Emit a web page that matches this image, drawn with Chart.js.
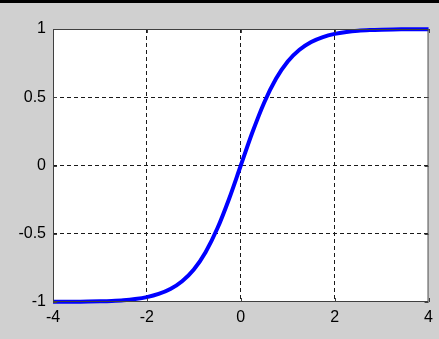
<!DOCTYPE html>
<html><head><meta charset="utf-8">
<script src="https://cdn.jsdelivr.net/npm/chart.js@4"></script>
<style>html,body{margin:0;padding:0;background:#d0d0d0;}#c{display:block;}</style>
</head><body>
<canvas id="c" width="439" height="339"></canvas>
<script>
const xValues = [-4,-3.75,-3.5,-3.25,-3,-2.75,-2.5,-2.25,-2,-1.75,-1.5,-1.25,-1,-0.75,-0.5,-0.25,0,0.25,0.5,0.75,1,1.25,1.5,1.75,2,2.25,2.5,2.75,3,3.25,3.5,3.75,4];
const yValues = [-0.999,-0.999,-0.998,-0.997,-0.995,-0.992,-0.987,-0.978,-0.964,-0.941,-0.905,-0.848,-0.762,-0.635,-0.462,-0.245,0,0.245,0.462,0.635,0.762,0.848,0.905,0.941,0.964,0.978,0.987,0.992,0.995,0.997,0.998,0.999,0.999];
const xTicks = [-4,-2,0,2,4];
const yTicks = [-1,-0.5,0,0.5,1];

const pts = xValues.map((x,i)=>({x:x,y:yValues[i]}));
const font = {family:'"Liberation Sans", Arial, sans-serif', size:16};

const bg = {
  id:'bg',
  beforeDraw(chart){
    const {ctx, chartArea:a} = chart;
    ctx.save();
    ctx.fillStyle='#d0d0d0'; ctx.fillRect(0,0,chart.width,chart.height);
    ctx.fillStyle='#000'; ctx.fillRect(0,0,chart.width,3);
    ctx.fillStyle='#fff'; ctx.fillRect(a.left,a.top,a.right-a.left,a.bottom-a.top);
    ctx.restore();
  },
  afterDraw(chart){
    const {ctx, chartArea:a, scales} = chart;
    ctx.save();
    ctx.strokeStyle='#404040'; ctx.lineWidth=1;
    ctx.strokeRect(a.left+0.5,a.top+0.5,a.right-a.left-1,a.bottom-a.top-1);
    ctx.beginPath();
    xTicks.forEach(v=>{
      const px = Math.round(scales.x.getPixelForValue(v))+0.5;
      ctx.moveTo(px,a.bottom); ctx.lineTo(px,a.bottom-4);
      ctx.moveTo(px,a.top); ctx.lineTo(px,a.top+4);
    });
    yTicks.forEach(v=>{
      const py = Math.round(scales.y.getPixelForValue(v))+0.5;
      ctx.moveTo(a.left,py); ctx.lineTo(a.left+4,py);
      ctx.moveTo(a.right,py); ctx.lineTo(a.right-4,py);
    });
    ctx.stroke();
    ctx.restore();
  }
};

new Chart(document.getElementById('c'), {
  type:'scatter',
  data:{datasets:[{data:pts, showLine:true, borderColor:'#0000ff', backgroundColor:'#0000ff', borderWidth:4, pointRadius:0, cubicInterpolationMode:'monotone', clip:4}]},
  options:{
    responsive:false, animation:false,
    layout:{padding:{top:29,right:7,left:0,bottom:0}},
    plugins:{legend:{display:false}, tooltip:{enabled:false}},
    scales:{
      x:{type:'linear', min:-4, max:4,
        afterBuildTicks(s){ s.ticks = xTicks.map(v=>({value:v})); },
        afterFit(s){ s.height = 37; },
        ticks:{color:'#000', font:font, padding:6, maxRotation:0, callback:v=>String(v)},
        grid:{color:ctx=>(ctx.tick && (ctx.tick.value===-4||ctx.tick.value===4))?'rgba(0,0,0,0)':'#1a1a1a', drawTicks:false, lineWidth:1},
        border:{display:false, dash:[4,3]}
      },
      y:{type:'linear', min:-1, max:1,
        afterBuildTicks(s){ s.ticks = yTicks.map(v=>({value:v})); },
        afterFit(s){ s.width = 53; },
        ticks:{color:'#000', font:font, padding:7, callback:v=>String(v)},
        grid:{color:ctx=>(ctx.tick && (ctx.tick.value===-1||ctx.tick.value===1))?'rgba(0,0,0,0)':'#1a1a1a', drawTicks:false, lineWidth:1},
        border:{display:false, dash:[4,3]}
      }
    }
  },
  plugins:[bg]
});
</script>
</body></html>
